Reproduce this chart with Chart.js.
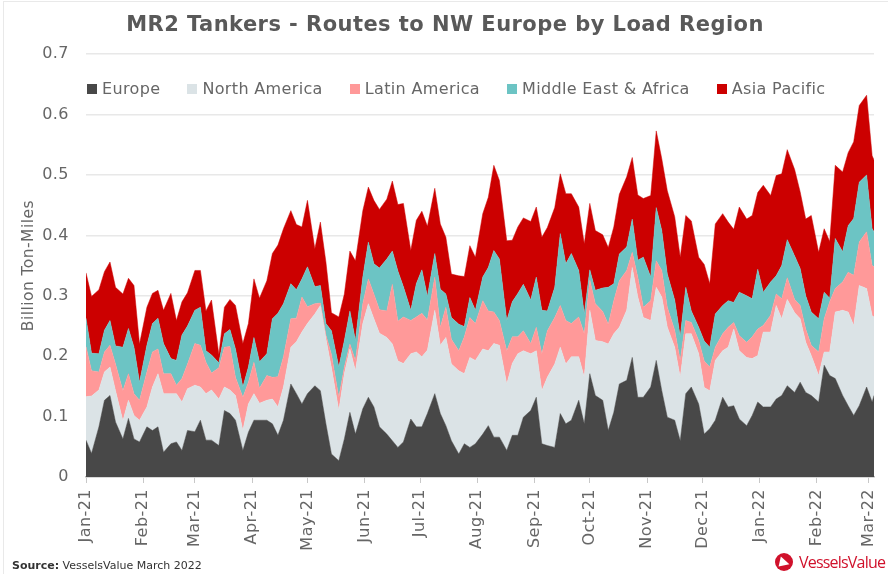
<!DOCTYPE html>
<html lang="en">
<head>
<meta charset="UTF-8">
<title>MR2 Tankers - Routes to NW Europe by Load Region</title>
<script src="https://cdn.jsdelivr.net/npm/chart.js"></script>
<style>
  html, body { margin: 0; background: #fff; }
  body { position: relative; width: 895px; height: 574px; overflow: hidden; font-family: "DejaVu Sans", sans-serif; }
  #frame { position: absolute; left: 3px; top: 1px; width: 884px; height: 573px; border-left: 1px solid #e9e9e9; border-top: 1px solid #e9e9e9; }
  canvas { position: absolute; left: 0; top: 0; }
  #legend { position: absolute; left: 87px; top: 79px; display: flex; font-size: 16px; letter-spacing: 0.35px; color: #666; line-height: 20px; }
  #legend span.item { display: flex; align-items: center; margin-right: 27px; white-space: nowrap; }
  #legend i { display: inline-block; width: 10px; height: 10px; margin-right: 5px; }
  #source { position: absolute; left: 12px; top: 559px; font-size: 11px; color: #333; }
  #logo { position: absolute; left: 775px; top: 551px; display: flex; align-items: center; color: #d0112b; font-family: "Open Sans", sans-serif; font-size: 16px; letter-spacing: -0.8px; }
  #logo svg { margin-right: 6px; }
</style>
</head>
<body>
<div id="frame"></div>
<canvas id="chart" width="895" height="574"></canvas>
<div id="legend"></div>
<div id="source"><b>Source:</b> VesselsValue March 2022</div>
<div id="logo"><svg width="18" height="18" viewBox="0 0 20 20"><circle cx="10" cy="10" r="10" fill="#d0112b"/><path d="M6.5 4 L16 12.5 L4 15 Z" fill="#fff"/></svg>VesselsValue</div>
<script>
const seriesNames = ['Europe', 'North America', 'Latin America', 'Middle East & Africa', 'Asia Pacific'];
const seriesColors = ['#484848', '#dbe3e6', '#ff9999', '#6cc4c4', '#cc0000'];

// days since 1 Jan 2021
const sampleDays = [0,3,7,10,13,16,20,23,26,29,33,36,39,42,46,49,52,55,59,62,65,68,72,75,78,81,85,88,91,94,98,101,
  104,107,111,114,117,120,124,127,130,133,137,140,143,146,150,153,156,159,163,166,169,172,176,179,182,185,189,192,195,198,
  202,205,208,211,215,218,221,224,228,231,234,237,241,244,247,250,254,257,260,263,267,270,273,276,280,283,286,289,293,296,
  299,302,306,309,312,315,319,322,325,328,332,335,338,341,345,348,351,354,358,361,364,367,371,374,377,380,384,387,390,393,
  397,400,403,406,410,413,416,419,423,426,427];

const europe = [.061,.039,.083,.127,.135,.091,.063,.097,.063,.058,.083,.077,.083,.041,.055,.058,.044,.077,.075,.094,.061,.061,
  .052,.110,.105,.094,.044,.074,.094,.094,.094,.088,.069,.094,.154,.138,.121,.138,.151,.143,.088,.038,.027,
  .063,.107,.071,.113,.132,.116,.083,.071,.060,.049,.058,.096,.083,.083,.105,.138,.105,.085,.060,.038,.055,
  .049,.055,.071,.085,.066,.066,.044,.069,.069,.099,.110,.132,.055,.052,.049,.105,.088,.094,.127,.088,.171,.135,
  .127,.077,.107,.154,.160,.198,.132,.132,.149,.193,.143,.099,.094,.060,.138,.149,.121,.071,.080,.094,.132,.116,
  .118,.096,.085,.102,.124,.116,.116,.129,.135,.151,.140,.157,.140,.135,.124,.185,.168,.163,.135,.118,.102,.118,.149,.124,.135];
const northAmerica = [.072,.095,.061,.047,.047,.052,.030,.030,.039,.036,.033,.072,.088,.097,.083,.080,.080,.069,.077,.055,.077,.083,
  .077,.039,.039,.041,.033,.047,.044,.028,.033,.041,.047,.055,.061,.086,.119,.116,.119,.141,.141,.143,.083,
  .108,.105,.105,.141,.155,.146,.155,.160,.160,.143,.130,.108,.124,.116,.105,.138,.113,.146,.127,.138,.116,
  .149,.138,.141,.124,.155,.152,.110,.119,.135,.110,.094,.077,.088,.113,.138,.110,.099,.105,.072,.077,.105,.091,
  .097,.143,.130,.094,.116,.149,.166,.132,.110,.121,.155,.149,.121,.105,.099,.088,.083,.077,.063,.099,.077,.099,
  .127,.113,.113,.094,.077,.124,.124,.155,.127,.143,.132,.105,.083,.066,.044,.022,.039,.110,.141,.155,.149,.199,.163,.143,.130];
const latinAmerica = [.083,.042,.030,.033,.036,.044,.050,.044,.036,.033,.058,.058,.041,.033,.033,.014,.039,.041,.069,.069,.052,.028,
  .052,.066,.072,.030,.055,.036,.052,.025,.041,.036,.050,.050,.047,.039,.058,.028,.017,.004,.006,.022,.022,
  .011,.008,.017,.033,.041,.041,.039,.044,.099,.066,.077,.055,.058,.072,.050,.055,.030,.050,.041,.033,.061,
  .066,.061,.080,.066,.052,.041,.055,.044,.028,.033,.017,.039,.061,.077,.077,.069,.072,.055,.066,.072,.050,.061,
  .050,.033,.055,.077,.066,.025,.033,.017,.033,.044,.044,.033,.028,.028,.022,.019,.022,.044,.039,.022,.028,.033,
  .011,.025,.025,.036,.044,.011,.028,.019,.033,.036,.022,.022,.022,.017,.039,.055,.083,.039,.047,.066,.083,.072,.094,.083,.083];
const middleEastAfrica = [.047,.029,.030,.036,.041,.030,.072,.075,.077,.030,.044,.047,.051,.050,.025,.041,.072,.063,.055,.063,.019,.030,
  .008,.022,.028,.047,.017,.025,.041,.044,.036,.097,.105,.088,.058,.047,.030,.066,.028,.029,.019,.039,.050,
  .044,.055,.033,.044,.061,.050,.069,.086,.055,.083,.050,.017,.055,.072,.039,.039,.063,.022,.036,.044,.017,
  .033,.022,.039,.072,.102,.102,.050,.058,.072,.077,.072,.083,.072,.033,.050,.119,.094,.116,.077,.033,.017,.022,
  .039,.061,.028,.044,.039,.055,.028,.083,.039,.088,.066,.055,.050,.039,.055,.019,.022,.033,.033,.055,.047,.044,
  .033,.072,.077,.063,.099,.055,.055,.030,.055,.063,.072,.061,.055,.055,.055,.044,.006,.083,.050,.077,.094,.099,.094,.061,.058];
const asiaPacific = [.075,.094,.106,.097,.097,.097,.088,.083,.102,.063,.063,.050,.046,.055,.108,.066,.055,.055,.066,.061,.066,.091,
  .014,.044,.050,.072,.072,.072,.097,.105,.121,.108,.113,.124,.121,.108,.086,.110,.063,.105,.102,.030,.083,
  .077,.099,.132,.110,.091,.105,.097,.099,.116,.110,.138,.099,.105,.097,.116,.108,.108,.094,.072,.080,.083,
  .086,.088,.105,.116,.141,.130,.132,.102,.110,.110,.130,.116,.121,.138,.132,.099,.116,.099,.105,.116,.110,.099,
  .088,.066,.094,.099,.116,.102,.108,.097,.135,.127,.119,.138,.138,.132,.119,.149,.116,.127,.105,.149,.152,.130,
  .121,.141,.127,.138,.127,.177,.143,.166,.152,.149,.143,.127,.127,.160,.110,.105,.094,.121,.132,.121,.127,.127,.132,.121,.119];

const monthLabels = ['Jan-21','Feb-21','Mar-21','Apr-21','May-21','Jun-21','Jul-21','Aug-21','Sep-21','Oct-21','Nov-21','Dec-21','Jan-22','Feb-22','Mar-22'];
const monthDays = [0,31,59,90,120,151,181,212,243,273,304,334,365,396,424];

const allSeries = [europe, northAmerica, latinAmerica, middleEastAfrica, asiaPacific];
const textColor = '#666';

// html legend sits on top of the plot like the original
const legendEl = document.getElementById('legend');
seriesNames.forEach((name, i) => {
  const item = document.createElement('span');
  item.className = 'item';
  const box = document.createElement('i');
  box.style.background = seriesColors[i];
  item.appendChild(box);
  item.appendChild(document.createTextNode(name));
  legendEl.appendChild(item);
});

const spacing = {
  id: 'spacing',
  beforeLayout(chart) { chart.ctx.letterSpacing = '0.45px'; },
  beforeDraw(chart) { chart.ctx.letterSpacing = '0.45px'; }
};

new Chart(document.getElementById('chart'), {
  type: 'line',
  data: {
    datasets: allSeries.map((values, i) => ({
      label: seriesNames[i],
      data: values.map((v, j) => ({ x: sampleDays[j], y: v })),
      backgroundColor: seriesColors[i],
      borderColor: seriesColors[i],
      borderWidth: 0.5,
      pointRadius: 0,
      tension: 0,
      fill: i === 0 ? 'origin' : '-1'
    }))
  },
  options: {
    responsive: false,
    animation: false,
    layout: { padding: { left: 0, right: 5, top: 0, bottom: 0 } },
    plugins: {
      legend: { display: false },
      tooltip: { enabled: false },
      title: {
        display: true,
        text: 'MR2 Tankers - Routes to NW Europe by Load Region',
        color: '#595959',
        font: { family: '"DejaVu Sans"', size: 21, weight: 'bold', lineHeight: 1.2 },
        padding: { top: 13, bottom: 16 }
      }
    },
    scales: {
      x: {
        type: 'linear',
        min: 0,
        max: 427,
        grid: { drawOnChartArea: false, color: '#c8c8c8', tickLength: 6 },
        border: { color: '#bdbdbd', width: 1.5 },
        afterBuildTicks(scale) { scale.ticks = monthDays.map(d => ({ value: d })); },
        afterFit(scale) { scale.height = 97; },
        ticks: {
          autoSkip: false,
          minRotation: 90,
          maxRotation: 90,
          padding: 6,
          color: textColor,
          font: { family: '"DejaVu Sans"', size: 16 },
          callback(value, index) { return monthLabels[index]; }
        }
      },
      y: {
        stacked: true,
        min: 0,
        max: 0.7,
        grid: { color: '#e8e8e8', lineWidth: 1.5, drawTicks: false },
        border: { display: false },
        afterFit(scale) { scale.width = 86; },
        title: {
          display: true,
          text: 'Billion Ton-Miles',
          color: textColor,
          font: { family: '"DejaVu Sans"', size: 15.5 },
          padding: { top: 20, bottom: 0 }
        },
        ticks: {
          stepSize: 0.1,
          padding: 17,
          color: textColor,
          font: { family: '"DejaVu Sans"', size: 16 }
        }
      },
      // empty axis only keeps the right margin
      spare: {
        type: 'linear',
        position: 'right',
        display: true,
        grid: { display: false },
        border: { display: false },
        ticks: { display: false },
        afterFit(scale) { scale.width = 16; }
      }
    }
  },
  plugins: [spacing]
});
</script>
</body>
</html>
